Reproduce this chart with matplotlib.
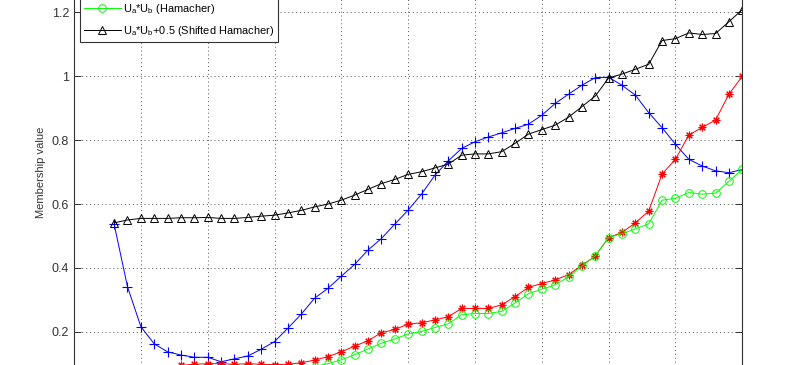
import numpy as np
import matplotlib
matplotlib.use("Agg")
import matplotlib.pyplot as plt
from matplotlib.ticker import FormatStrFormatter

plt.rcParams['font.family'] = ['Liberation Sans', 'DejaVu Sans']
plt.rcParams['mathtext.fontset'] = 'custom'
plt.rcParams['mathtext.rm'] = 'Liberation Sans'
plt.rcParams['mathtext.it'] = 'Liberation Sans:italic'
plt.rcParams['mathtext.default'] = 'rm'

# sample index
x = np.arange(3, 51)

# membership of Ua
ua = [0.537, 0.341, 0.216, 0.162, 0.137, 0.127, 0.120, 0.120, 0.106, 0.115,
      0.124, 0.145, 0.169, 0.211, 0.255, 0.305, 0.336, 0.374, 0.411, 0.456,
      0.492, 0.537, 0.581, 0.631, 0.690, 0.735, 0.774, 0.795, 0.810, 0.823,
      0.837, 0.850, 0.878, 0.915, 0.944, 0.972, 0.996, 0.997, 0.972, 0.941,
      0.886, 0.839, 0.787, 0.740, 0.719, 0.704, 0.698, 0.708]

# membership of Ub
ub = [0.043, 0.055, 0.069, 0.077, 0.084, 0.095, 0.098, 0.100, 0.100, 0.098,
      0.100, 0.098, 0.097, 0.098, 0.103, 0.111, 0.122, 0.137, 0.155, 0.172,
      0.197, 0.207, 0.224, 0.228, 0.237, 0.247, 0.273, 0.273, 0.273, 0.284,
      0.310, 0.339, 0.351, 0.362, 0.379, 0.408, 0.437, 0.495, 0.511, 0.541,
      0.578, 0.694, 0.740, 0.816, 0.840, 0.863, 0.944, 1.000]

# Ua*Ub (Hamacher)
ham = [0.041, 0.050, 0.055, 0.055, 0.055, 0.057, 0.057, 0.058, 0.055, 0.055,
       0.058, 0.062, 0.065, 0.072, 0.080, 0.091, 0.100, 0.112, 0.128, 0.146,
       0.164, 0.177, 0.193, 0.201, 0.213, 0.225, 0.253, 0.257, 0.257, 0.264,
       0.290, 0.319, 0.333, 0.347, 0.372, 0.405, 0.438, 0.495, 0.507, 0.522,
       0.538, 0.612, 0.618, 0.636, 0.631, 0.634, 0.671, 0.709]

# Ua*Ub + 0.5 (Shifted Hamacher)
sham = [0.541, 0.550, 0.555, 0.555, 0.555, 0.557, 0.557, 0.558, 0.555, 0.555,
        0.558, 0.562, 0.565, 0.572, 0.580, 0.591, 0.600, 0.612, 0.628, 0.646,
        0.664, 0.677, 0.693, 0.701, 0.713, 0.725, 0.753, 0.757, 0.757, 0.764,
        0.790, 0.819, 0.833, 0.847, 0.872, 0.905, 0.938, 0.995, 1.007, 1.022,
        1.038, 1.112, 1.118, 1.136, 1.131, 1.134, 1.171, 1.209]

labels = [r'U$_a$', r'U$_b$', r'U$_a$*U$_b$ (Hamacher)',
          r'U$_a$*U$_b$+0.5 (Shifted Hamacher)']

fig = plt.figure(figsize=(7.85, 3.65), dpi=100)
# axes partly outside the figure (cropped view of the original)
ax = fig.add_axes([0.0943, -0.0838, 0.8513, 1.2246])

ast = (8, 2, 0)
ax.plot(x, ua, '-', color='b', marker='+', ms=7, mew=0.8, lw=0.7, label=labels[0])
ax.plot(x, ub, '-', color='r', marker=ast, ms=5.5, mew=0.8, lw=0.7, label=labels[1])
ax.plot(x, ham, '-', color=(0, 1, 0), marker='o', ms=5.5, mew=0.7, mfc='none',
        lw=0.7, label=labels[2])
ax.plot(x, sham, '-', color='k', marker='^', ms=6, mew=0.7, mfc='none', lw=0.7,
        label=labels[3])

ax.set_xlim(0, 50)
ax.set_ylim(0, 1.4)
ax.set_xticks(np.arange(0, 51, 5))
ax.set_yticks(np.arange(0, 1.41, 0.2))
ax.yaxis.set_major_formatter(FormatStrFormatter('%g'))
ax.grid(True, linestyle=(0, (1, 3)), color='#555555', linewidth=0.7)
ax.tick_params(direction='in', length=5, top=True, right=True, labelsize=9,
               color='#333333', labelcolor='#333333', width=0.7,
               labelbottom=False)
for s in ax.spines.values():
    s.set_color('#333333')
    s.set_linewidth(0.8)
ax.set_ylabel('Membership value', fontsize=8, color='#333333', labelpad=4)

leg = ax.legend(loc='lower left', bbox_to_anchor=(80 / 785, 1 - 42.3 / 365),
                bbox_transform=fig.transFigure, borderaxespad=0,
                fontsize=7.9, handlelength=3.3, handletextpad=0.2,
                labelspacing=0.7, borderpad=0.4,
                fancybox=False, framealpha=1, edgecolor='#333333')
leg.get_frame().set_linewidth(0.8)

fig.savefig('out.png', dpi=100)
